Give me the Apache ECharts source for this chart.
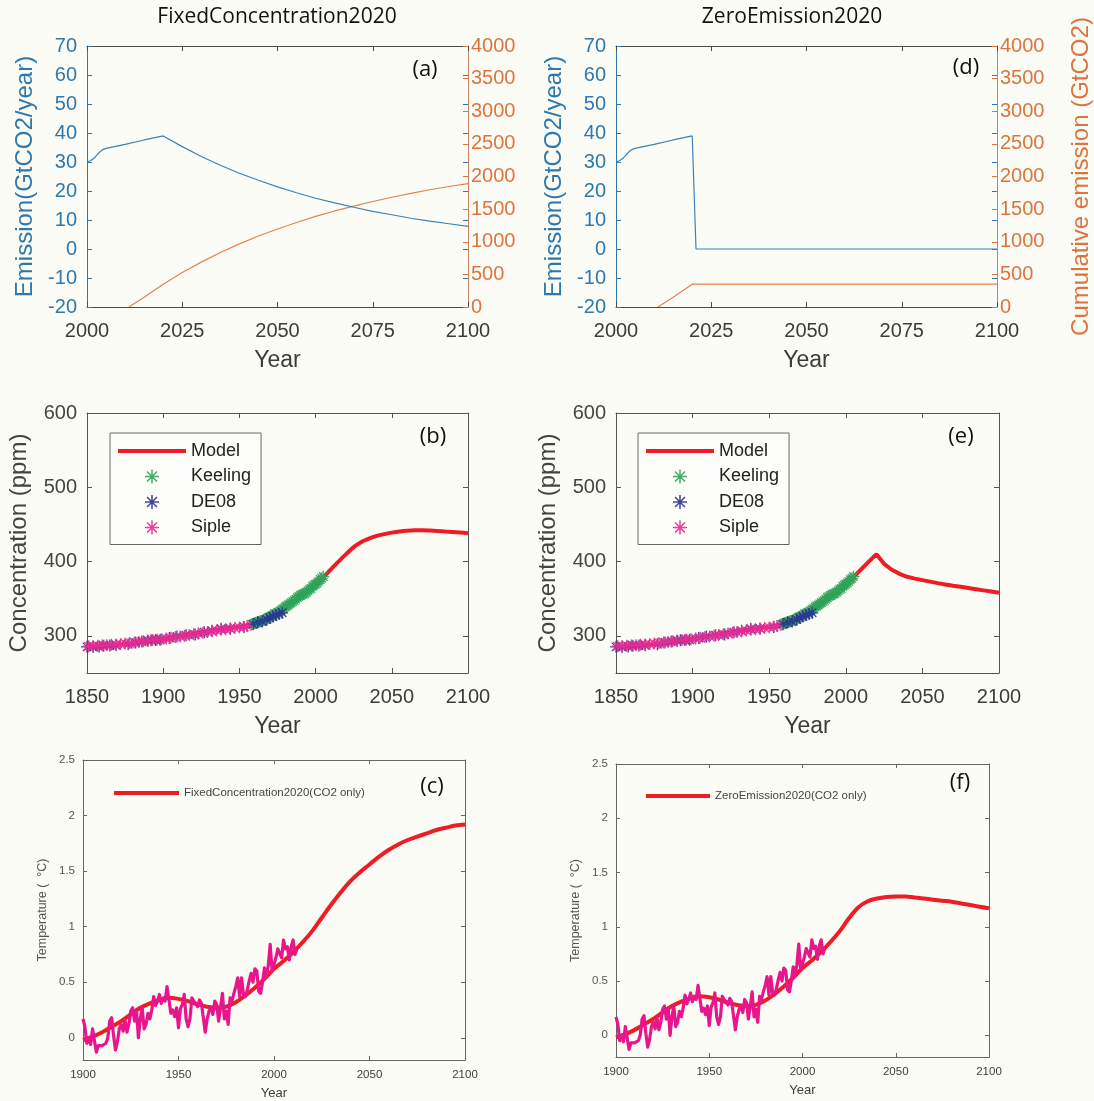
<!DOCTYPE html>
<html><head><meta charset="utf-8">
<script src="https://cdn.jsdelivr.net/npm/echarts@6/dist/echarts.min.js"></script>
<style>html,body{margin:0;padding:0;background:#fcfcf6}#c{width:1094px;height:1101px}</style>
</head><body><div id="c"></div><script>
// ---------------- DATA ----------------
const panelTitles = ['FixedConcentration2020', 'ZeroEmission2020'];
const panelLetters = ['(a)', '(d)', '(b)', '(e)', '(c)', '(f)'];

// Emission (GtCO2/year)
const emissionYears = [2000,2001,2002,2003,2004,2005,2010,2015,2020,2025,2030,2035,2040,2045,2050,2055,2060,2065,2070,2075,2080,2085,2090,2095,2100];
const emissionFixed = [30,30.5,31.5,33,34.2,34.7,36.1,37.6,39,35.3,31.9,28.9,26.1,23.7,21.4,19.4,17.5,15.9,14.4,13.0,11.8,10.6,9.6,8.7,7.8];
const emissionZeroYears = [2000,2001,2002,2003,2004,2005,2010,2015,2020,2021,2100];
const emissionZero = [30,30.5,31.5,33,34.2,34.7,36.1,37.6,39,0,0];

// Cumulative emission (GtCO2)
const cumYears = [2011,2015,2020,2025,2030,2035,2040,2045,2050,2055,2060,2065,2070,2075,2080,2085,2090,2095,2100];
const cumFixed = [0,150,350,528,688,835,968,1088,1195,1295,1388,1472,1547,1617,1682,1742,1797,1847,1890];
const cumZeroYears = [2011,2015,2020,2100];
const cumZero = [0,150,350,350];

// Concentration model (ppm)
const concYears = [1850,1855,1860,1865,1870,1875,1880,1885,1890,1895,1900,1905,1910,1915,1920,1925,1930,1935,1940,1945,1950,1955,1960,1965,1970,1975,1980,1985,1990,1995,2000,2005,2010,2015,2020,2025,2030,2035,2040,2045,2050,2055,2060,2065,2070,2075,2080,2085,2090,2095,2100];
const concFixed = [285,285.5,286,286.8,287.6,288.6,290,291.4,293,294.4,296,297.6,299.3,301,302.8,304.6,306.4,308,309.6,310.8,312,314,317,320.5,325.5,331,338.5,345.5,354,361,369.5,379,389.5,400,410,419.5,426.5,431,434.5,437,439,440.5,441.5,442,442,441.7,441.2,440.5,439.8,439,438.2];
const concZero = [285,285.5,286,286.8,287.6,288.6,290,291.4,293,294.4,296,297.6,299.3,301,302.8,304.6,306.4,308,309.6,310.8,312,314,317,320.5,325.5,331,338.5,345.5,354,361,369.5,379,389.5,400,410,397,389,383.5,379.5,377,375,373,371,369.2,367.5,366,364.4,362.8,361.2,359.6,358];

// Observations (ppm)
const keelingYears = [1958,1959,1960,1961,1962,1963,1964,1965,1966,1967,1968,1969,1970,1971,1972,1973,1974,1975,1976,1977,1978,1979,1980,1981,1982,1983,1984,1985,1986,1987,1988,1989,1990,1991,1992,1993,1994,1995,1996,1997,1998,1999,2000,2001,2002,2003,2004,2005];
const keelingCO2 = [315.3,316.0,316.9,317.6,318.5,319.0,319.6,320.0,321.4,322.2,323.0,324.6,325.7,326.3,327.5,329.7,330.2,331.1,332.0,333.8,335.4,336.8,338.8,340.1,341.5,343.1,344.7,346.1,347.4,349.2,351.6,353.1,354.4,355.6,356.5,357.1,358.8,360.8,362.6,363.7,366.7,368.4,369.6,371.1,373.3,375.8,377.5,379.8];
const de08Years = [1850,1854,1858,1861,1865,1869,1877,1882,1886,1890,1892,1895,1898,1904,1909,1915,1921,1927,1932,1938,1944,1953,1959,1962,1965,1968,1970,1972,1974,1976,1978];
const de08CO2 = [285.2,285.1,285.8,286.6,286.9,287.4,288.8,291.0,292.5,293.4,294.0,294.4,294.7,297.0,299.2,300.9,301.7,304.8,307.0,309.5,309.7,311.9,315.7,318.2,319.4,322.0,324.5,326.0,328.0,329.5,331.0];
const sipleYears = [1851,1854,1857,1860,1863,1866,1869,1872,1875,1878,1881,1884,1887,1890,1893,1896,1899,1902,1905,1908,1911,1914,1917,1920,1923,1926,1929,1932,1935,1938,1941,1944,1947,1950,1953,1955];
const sipleCO2 = [286.0,286.3,286.7,287.0,287.4,287.9,288.4,289.0,289.7,290.4,291.0,291.8,292.6,293.5,294.3,295.0,295.6,296.4,297.3,298.3,299.3,300.3,301.2,302.1,303.1,304.2,305.2,306.2,307.2,308.1,309.0,309.9,310.7,311.4,312.4,313.2];

// Temperature (°C)
const tempObsYears = [];
for (let y = 1900; y <= 2012; y++) tempObsYears.push(y);
const tempObs = [
 0.17,0.10,-0.05,0.00,-0.06,0.08,0.09,-0.13,-0.07,-0.08,
 -0.07,-0.06,-0.05,0.00,0.15,0.18,0.02,-0.11,-0.04,0.08,
 0.12,0.06,0.16,0.05,0.12,0.24,0.27,0.15,0.25,0.00,
 0.17,0.27,0.08,0.12,0.22,0.17,0.25,0.37,0.29,0.33,
 0.39,0.31,0.36,0.33,0.46,0.34,0.22,0.25,0.19,0.27,
 0.09,0.26,0.30,0.39,0.17,0.10,0.17,0.36,0.33,0.31,
 0.28,0.34,0.31,0.30,0.05,0.17,0.24,0.27,0.21,0.33,
 0.30,0.15,0.27,0.40,0.17,0.24,0.12,0.36,0.33,0.40,
 0.46,0.54,0.37,0.54,0.39,0.37,0.43,0.51,0.58,0.50,
 0.62,0.60,0.42,0.40,0.50,0.63,0.55,0.65,0.84,0.60,
 0.60,0.72,0.80,0.79,0.72,0.88,0.80,0.82,0.70,0.82,
 0.88,0.75,0.80];
const tempModelYears = [1900,1905,1910,1915,1920,1925,1930,1935,1940,1945,1950,1955,1960,1965,1970,1975,1980,1985,1990,1995,2000,2005,2010,2015,2020,2025,2030,2035,2040,2045,2050,2055,2060,2065,2070,2075,2080,2085,2090,2095,2100];
const tempFixed = [-0.02,0.01,0.05,0.10,0.15,0.21,0.27,0.31,0.34,0.36,0.35,0.33,0.30,0.28,0.27,0.28,0.32,0.38,0.45,0.53,0.62,0.69,0.77,0.86,0.96,1.08,1.20,1.31,1.41,1.49,1.56,1.63,1.69,1.74,1.78,1.81,1.84,1.87,1.89,1.91,1.92];
const tempZero = [-0.02,0.01,0.05,0.10,0.15,0.21,0.27,0.31,0.34,0.36,0.35,0.33,0.30,0.28,0.27,0.28,0.32,0.38,0.45,0.53,0.62,0.69,0.77,0.86,0.96,1.08,1.18,1.235,1.26,1.275,1.28,1.28,1.27,1.26,1.25,1.24,1.23,1.215,1.20,1.185,1.17];

const concTicks = [300,400,500,600];
const tempTicks = [0,0.5,1,1.5,2,2.5];

// ---------------- STYLE ----------------
const FONT = "'Liberation Sans', Arial, Helvetica, sans-serif";
const TFONT = "'Open Sans', 'Noto Sans', sans-serif";
const BLUE = '#2f78ac', BLUE_LINE = '#3b82b6';
const ORANGE = '#dd7440', ORANGE_LINE = '#e5814f';
const RED = '#ee1c24', MAGENTA = '#e8168c';
const GREEN = '#2fa35a', NAVY = '#2d3590', PINK = '#ec2a95';
const STAR = 'path://M-0.11,-1L0.11,-1L0.11,1L-0.11,1ZM-1,-0.11L1,-0.11L1,0.11L-1,0.11Z' +
  'M-0.629,-0.785L0.785,0.629L0.629,0.785L-0.785,-0.629Z' +
  'M-0.785,0.629L0.629,-0.785L0.785,-0.629L-0.629,0.785Z';
const plain = v => String(v);

const pairs = (xs, ys) => xs.map((x, i) => [x, ys[i]]);

const option = {
  backgroundColor: '#fcfcf6', animation: false,
  grid: [
    {left: 87, top: 46, width: 381, height: 261},
    {left: 616, top: 46, width: 383, height: 261},
    {left: 87, top: 413, width: 381, height: 260},
    {left: 616, top: 413, width: 383, height: 260},
    {left: 83, top: 760, width: 382, height: 300},
    {left: 616, top: 764, width: 373, height: 293}
  ],
  xAxis: [], yAxis: [], series: [], legend: [], graphic: []
};

function addX(gi, min, max, interval, o) {
  const idx = option.xAxis.length;
  option.xAxis.push({
    type: 'value', gridIndex: gi, min, max, interval, position: 'bottom',
    axisLine: {show: true, onZero: false, lineStyle: {color: o.frame, width: 1}},
    axisTick: {show: true, inside: true, length: o.tick, lineStyle: {color: o.frame}},
    axisLabel: {fontSize: o.label, color: '#3c3c3c', margin: o.margin, fontFamily: FONT, formatter: plain},
    splitLine: {show: false},
    name: 'Year', nameLocation: 'middle', nameGap: o.nameGap,
    nameTextStyle: {fontSize: o.nameSize, color: '#3c3c3c', fontFamily: FONT}
  });
  option.xAxis.push({
    type: 'value', gridIndex: gi, min, max, interval, position: 'top',
    axisLine: {show: true, onZero: false, lineStyle: {color: o.frame, width: 1}},
    axisTick: {show: true, inside: true, length: o.tick, lineStyle: {color: o.frame}},
    axisLabel: {show: false}, splitLine: {show: false}
  });
  return idx;
}

function addY(gi, cfg) {
  const idx = option.yAxis.length;
  option.yAxis.push(Object.assign({
    type: 'value', gridIndex: gi, splitLine: {show: false}
  }, cfg));
  return idx;
}

// ---------- Row 1: emission panels ----------
function emissionPanel(gi, ey, ev, cy, cv, rightName) {
  const xi = addX(gi, 2000, 2100, 25, {frame: '#4a4a4a', tick: 5, label: 20, margin: 14, nameGap: 42, nameSize: 23});
  const yl = addY(gi, {
    position: 'left', min: -20, max: 70, interval: 10,
    axisLine: {show: true, onZero: false, lineStyle: {color: BLUE, width: 1}},
    axisTick: {show: true, inside: true, length: 5, lineStyle: {color: BLUE}},
    axisLabel: {fontSize: 20, color: BLUE, margin: 10, fontFamily: FONT, formatter: plain},
    name: 'Emission(GtCO2/year)', nameLocation: 'middle', nameRotate: 90, nameGap: 50,
    nameTextStyle: {fontSize: 24, color: BLUE, fontFamily: FONT}
  });
  addY(gi, {
    position: 'right', min: -20, max: 70, interval: 10,
    axisLine: {show: false},
    axisTick: {show: true, inside: true, length: 5, lineStyle: {color: BLUE}},
    axisLabel: {show: false}
  });
  const yr = addY(gi, Object.assign({
    position: 'right', min: 0, max: 4000, interval: 500,
    axisLine: {show: true, onZero: false, lineStyle: {color: '#c8825f', width: 1}},
    axisTick: {show: true, inside: true, length: 5, lineStyle: {color: ORANGE}},
    axisLabel: {fontSize: 20, color: ORANGE, margin: 3, fontFamily: FONT, formatter: plain}
  }, rightName ? {
    name: rightName, nameLocation: 'middle', nameRotate: 90, nameGap: 72,
    nameTextStyle: {fontSize: 24, color: ORANGE, fontFamily: FONT}
  } : {}));
  option.series.push({
    type: 'line', name: 'Emission' + gi, xAxisIndex: xi, yAxisIndex: yl, data: pairs(ey, ev),
    symbol: 'none', lineStyle: {color: BLUE_LINE, width: 1.2}, z: 3
  });
  option.series.push({
    type: 'line', name: 'Cumulative' + gi, xAxisIndex: xi, yAxisIndex: yr, data: pairs(cy, cv),
    symbol: 'none', lineStyle: {color: ORANGE_LINE, width: 1.2}, z: 2
  });
}
emissionPanel(0, emissionYears, emissionFixed, cumYears, cumFixed, null);
emissionPanel(1, emissionZeroYears, emissionZero, cumZeroYears, cumZero, 'Cumulative emission (GtCO2)');

// legend icon for thick red model lines
const LINE_ICON = w => 'path://M0,0L' + w + ',0L' + w + ',4L0,4Z';

// ---------- Row 2: concentration panels ----------
function concPanel(gi, model, legendLeft, smooth) {
  const xi = addX(gi, 1850, 2100, 50, {frame: '#555', tick: 5, label: 20, margin: 14, nameGap: 42, nameSize: 23});
  const yl = addY(gi, {
    position: 'left', min: 250, max: 600,
    axisLine: {show: true, onZero: false, lineStyle: {color: '#555', width: 1}},
    axisTick: {show: true, inside: true, length: 5, lineStyle: {color: '#555'}, customValues: concTicks},
    axisLabel: {fontSize: 20, color: '#444', margin: 10, fontFamily: FONT, customValues: concTicks, formatter: plain},
    name: 'Concentration (ppm)', nameLocation: 'middle', nameRotate: 90, nameGap: 56,
    nameTextStyle: {fontSize: 24, color: '#444', fontFamily: FONT}
  });
  addY(gi, {
    position: 'right', min: 250, max: 600,
    axisLine: {show: true, onZero: false, lineStyle: {color: '#555', width: 1}},
    axisTick: {show: true, inside: true, length: 5, lineStyle: {color: '#555'}, customValues: concTicks},
    axisLabel: {show: false}
  });
  option.series.push({
    type: 'line', name: 'Model', xAxisIndex: xi, yAxisIndex: yl, data: pairs(concYears, model),
    symbol: 'none', smooth: smooth, lineStyle: {color: RED, width: 4}, itemStyle: {color: RED}, z: 2
  });
  [['Keeling', keelingYears, keelingCO2, GREEN], ['DE08', de08Years, de08CO2, NAVY], ['Siple', sipleYears, sipleCO2, PINK]]
    .forEach(([n, xs, ys, c], k) => option.series.push({
      type: 'scatter', name: n, xAxisIndex: xi, yAxisIndex: yl, data: pairs(xs, ys),
      symbol: STAR, symbolSize: 12, itemStyle: {color: c, opacity: 0.9}, z: 3 + k
    }));
  option.legend.push({
    left: legendLeft, top: 433, orient: 'vertical',
    data: [{name: 'Model', icon: LINE_ICON(68)}, {name: 'Keeling'}, {name: 'DE08'}, {name: 'Siple'}],
    itemWidth: 68, itemHeight: 14, itemGap: 7.5, padding: [9, 10, 8, 8],
    borderColor: '#666', borderWidth: 1, backgroundColor: '#fdfdf9', selectedMode: false,
    textStyle: {fontSize: 18, color: '#222', fontFamily: FONT}
  });
}
concPanel(2, concFixed, 110, 0.3);
concPanel(3, concZero, 638, false);

// ---------- Row 3: temperature panels ----------
function tempPanel(gi, model, name, legendLeft, legendTop, itemW) {
  const xi = addX(gi, 1900, 2100, 50, {frame: '#666', tick: 4, label: 11.5, margin: 9, nameGap: 27, nameSize: 13});
  const yl = addY(gi, {
    position: 'left', min: -0.2, max: 2.5,
    axisLine: {show: true, onZero: false, lineStyle: {color: '#666', width: 1}},
    axisTick: {show: true, inside: true, length: 4, lineStyle: {color: '#666'}, customValues: tempTicks},
    axisLabel: {fontSize: 11.5, color: '#555', margin: 8, fontFamily: FONT, customValues: tempTicks, formatter: plain},
    name: 'Temperature (  °C)', nameLocation: 'middle', nameRotate: 90, nameGap: 34,
    nameTextStyle: {fontSize: 12.5, color: '#555', fontFamily: FONT}
  });
  addY(gi, {
    position: 'right', min: -0.2, max: 2.5,
    axisLine: {show: true, onZero: false, lineStyle: {color: '#666', width: 1}},
    axisTick: {show: true, inside: true, length: 4, lineStyle: {color: '#666'}, customValues: tempTicks},
    axisLabel: {show: false}
  });
  option.series.push({
    type: 'line', name: name, xAxisIndex: xi, yAxisIndex: yl, data: pairs(tempModelYears, model),
    symbol: 'none', smooth: 0.4, lineStyle: {color: RED, width: 4}, itemStyle: {color: RED}, z: 2
  });
  option.series.push({
    type: 'line', name: 'Observed' + gi, xAxisIndex: xi, yAxisIndex: yl, data: pairs(tempObsYears, tempObs),
    symbol: 'none', lineStyle: {color: MAGENTA, width: 3.2, join: 'round'}, z: 3
  });
  option.legend.push({
    left: legendLeft, top: legendTop, data: [{name: name, icon: LINE_ICON(itemW)}], itemWidth: itemW, itemHeight: 10,
    padding: 0, selectedMode: false,
    textStyle: {fontSize: 11.5, color: '#444', fontFamily: FONT}
  });
}
tempPanel(4, tempFixed, 'FixedConcentration2020(CO2 only)', 114, 787, 65);
tempPanel(5, tempZero, 'ZeroEmission2020(CO2 only)', 646, 790, 64);

// ---------- Titles & panel letters ----------
option.graphic.push(
  {type: 'text', x: 277, y: 17, style: {text: panelTitles[0], font: "21px " + TFONT, fill: '#111', align: 'center', verticalAlign: 'middle'}},
  {type: 'text', x: 792, y: 17, style: {text: panelTitles[1], font: "21px " + TFONT, fill: '#111', align: 'center', verticalAlign: 'middle'}}
);
const letterPos = [[425, 70], [966, 68], [433, 437], [961, 437], [432, 787], [960, 783]];
panelLetters.forEach((t, i) => option.graphic.push({
  type: 'text', x: letterPos[i][0], y: letterPos[i][1],
  style: {text: t, font: "22px " + TFONT, fill: '#111', align: 'center', verticalAlign: 'middle'}
}));

const chart = echarts.init(document.getElementById('c'), null, {renderer: 'canvas'});
chart.setOption(option);
</script></body></html>
